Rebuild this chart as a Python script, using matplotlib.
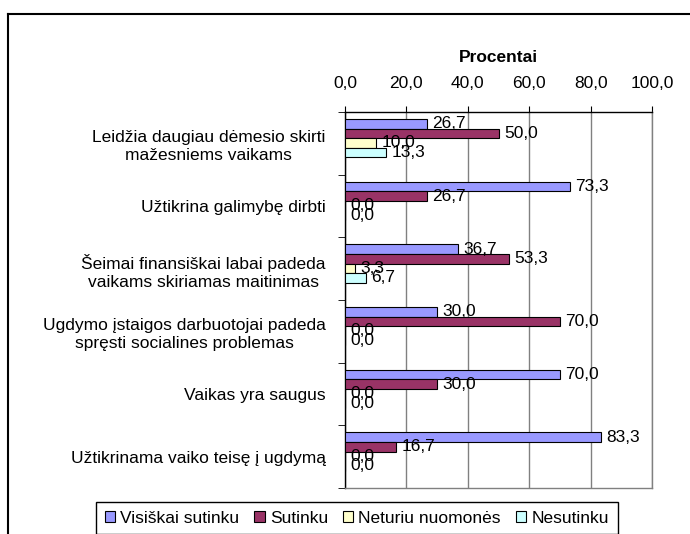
import matplotlib.pyplot as plt
from matplotlib.lines import Line2D

plt.rcParams['font.family'] = ['Liberation Sans', 'DejaVu Sans']
plt.rcParams['font.size'] = 12.5

# data
categories = [
    "Leidžia daugiau dėmesio skirti\nmažesniems vaikams",
    "Užtikrina galimybę dirbti",
    "Šeimai finansiškai labai padeda\nvaikams skiriamas maitinimas",
    "Ugdymo įstaigos darbuotojai padeda\nspręsti socialines problemas",
    "Vaikas yra saugus",
    "Užtikrinama vaiko teisę į ugdymą",
]
series_names = ["Visiškai sutinku", "Sutinku", "Neturiu nuomonės", "Nesutinku"]
visiskai = [26.7, 73.3, 36.7, 30.0, 70.0, 83.3]
sutinku = [50.0, 26.7, 53.3, 70.0, 30.0, 16.7]
neturiu = [10.0, 0.0, 3.3, 0.0, 0.0, 0.0]
nesutinku = [13.3, 0.0, 6.7, 0.0, 0.0, 0.0]
x_ticks = [0, 20, 40, 60, 80, 100]

colors = ["#9999FF", "#993366", "#FFFFCC", "#CCFFFF"]
values = [visiskai, sutinku, neturiu, nesutinku]

W, H = 690, 534
fig = plt.figure(figsize=(W / 100, H / 100), dpi=100)
ax = fig.add_axes([345 / W, 1 - 488 / H, 307 / W, 376 / H])

bar_h = 0.153
start = 0.112
for j, (name, vals, col) in enumerate(zip(series_names, values, colors)):
    ys = [i + start + bar_h / 2 + j * bar_h for i in range(len(categories))]
    ax.barh(ys, vals, height=bar_h, color=col, edgecolor='black',
            linewidth=0.8, label=name, zorder=3)
    for y, v in zip(ys, vals):
        ax.annotate(f"{v:.1f}".replace('.', ','), (v, y), xytext=(4, 0),
                    textcoords='offset points', ha='left', va='center', zorder=4)

ax.set_xlim(0, 100)
ax.set_ylim(len(categories), 0)

# x axis on top
ax.xaxis.tick_top()
ax.set_xticks(x_ticks)
ax.set_xticklabels([f"{t:.1f}".replace('.', ',') for t in x_ticks])
ax.tick_params(axis='x', direction='out', length=4, pad=11, color='black')
ax.xaxis.set_label_position('top')
ax.set_xlabel("Procentai", fontweight='bold', labelpad=10)
ax.grid(axis='x', color='#808080', linewidth=1, zorder=0)

# categories centred in bands, ticks at band edges
ax.set_yticks([i + 0.5 for i in range(len(categories))])
ax.set_yticklabels(categories)
for lab in ax.get_yticklabels():
    lab.set_multialignment('center')
    lab.set_linespacing(1.3)
ax.set_yticks(range(len(categories) + 1), minor=True)
ax.tick_params(axis='y', which='major', length=0, pad=14)
ax.tick_params(axis='y', which='minor', length=5, direction='out', color='black')

ax.spines['left'].set_color('black')
ax.spines['top'].set_color('black')
ax.spines['right'].set_color('#808080')
ax.spines['bottom'].set_color('#808080')
for s in ax.spines.values():
    s.set_linewidth(1)

# outer chart border (cut by the image edge)
x0, y0 = 8 / W, 1 - 14 / H
fig.add_artist(Line2D([x0, 1.01], [y0, y0], color='black', lw=1.5, transform=fig.transFigure))
fig.add_artist(Line2D([x0, x0], [-0.01, y0], color='black', lw=1.5, transform=fig.transFigure))

leg = fig.legend(loc='upper left', bbox_to_anchor=(96 / W, 1 - 502 / H), ncol=4,
                 frameon=True, fancybox=False, edgecolor='black', framealpha=1,
                 handlelength=0.6, handleheight=0.6, handletextpad=0.3,
                 columnspacing=0.85, borderaxespad=0, borderpad=0.5)
leg.get_frame().set_linewidth(1)

fig.savefig("out.png", dpi=100)
